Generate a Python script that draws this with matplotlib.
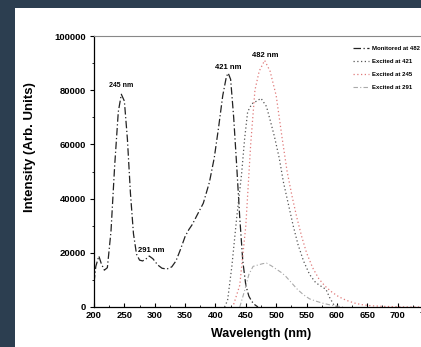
import numpy as np
import matplotlib
matplotlib.use('Agg')
import matplotlib.pyplot as plt
from matplotlib.patches import Rectangle
from matplotlib.ticker import MultipleLocator

plt.rcParams['font.family'] = ['Liberation Sans', 'DejaVu Sans']
plt.rcParams['font.weight'] = 'bold'

## excitation spectrum, monitored at 482 nm
wl_ex = [200, 203, 208, 212, 217, 222, 228, 234, 240, 245, 250, 255, 260, 265, 270,
         275, 280, 285, 291, 297, 305, 312, 320, 328, 335, 342, 350, 356, 362, 370,
         380, 390, 398, 405, 412, 418, 421, 425, 430, 435, 440, 445, 450, 455, 460,
         465, 470]
int_ex = [9000, 15000, 18800, 16000, 13600, 14500, 28000, 52000, 72000, 78500, 76000,
          62000, 42000, 27000, 19500, 17300, 17000, 17600, 18800, 17800, 15500, 14300,
          14000, 14800, 17000, 21000, 26000, 28500, 30500, 34000, 38300, 46000, 55000,
          66000, 78000, 85000, 86300, 84000, 70000, 52000, 33000, 17000, 8000, 4000,
          2000, 800, 0]

## emission, excited at 421 nm
wl_421 = [415, 420, 427, 435, 443, 448, 453, 460, 468, 475, 484, 490, 497, 505, 512,
          520, 528, 536, 545, 555, 565, 575, 582, 588, 595, 600]
int_421 = [0, 2500, 15000, 33000, 49000, 62000, 72000, 75000, 76000, 77000, 74000,
           69000, 63000, 55000, 46000, 38000, 30000, 23000, 17000, 12000, 9000, 7500,
           6500, 3500, 800, 0]

## emission, excited at 245 nm
wl_245 = [430, 440, 450, 458, 465, 472, 481, 490, 500, 510, 518, 526, 534, 542, 550,
          560, 570, 580, 590, 600, 610, 620, 630, 640, 650, 660, 680, 700, 720, 740]
int_245 = [1000, 8000, 30000, 60000, 80000, 87000, 91000, 87000, 78000, 62000, 50000,
           41000, 33000, 26000, 20000, 14500, 10500, 7800, 5800, 4200, 3000, 2100, 1400,
           900, 600, 400, 200, 100, 0, 0]

## emission, excited at 291 nm
wl_291 = [440, 448, 455, 462, 470, 478, 484, 492, 500, 508, 515, 525, 535, 545, 555,
          565, 575, 590, 610]
int_291 = [0, 6000, 12000, 15000, 15500, 16000, 16200, 15200, 14000, 12800, 11500,
           9000, 6500, 4500, 3000, 2200, 1500, 700, 0]

labels = ['Monitored at 482', 'Excited at 421', 'Excited at 245', 'Excited at 291']

W, H = 421, 347
fig = plt.figure(figsize=(W / 100, H / 100), dpi=100, facecolor='#2c3e50')
fig.patches.append(Rectangle((15 / W, 0), 1, (H - 8) / H, transform=fig.transFigure,
                             facecolor='white', edgecolor='none', zorder=-5))

ax = fig.add_axes([94 / W, 40 / H, (428 - 94) / W, 271 / H])
ax.set_facecolor('white')

l1, = ax.plot(wl_ex, int_ex, color='#222222', lw=0.9, ls=(0, (6, 2, 1, 2)))
l2, = ax.plot(wl_421, int_421, color='#555555', lw=0.9, ls=(0, (1, 2)))
l3, = ax.plot(wl_245, int_245, color='#e07a7a', lw=0.9, ls=(0, (1, 2)))
l4, = ax.plot(wl_291, int_291, color='#aaaaaa', lw=0.8, ls=(0, (4, 2, 1, 2)))

ax.set_xlim(200, 750)
ax.set_ylim(0, 100000)
ax.xaxis.set_major_locator(MultipleLocator(50))
ax.xaxis.set_minor_locator(MultipleLocator(25))
ax.yaxis.set_major_locator(MultipleLocator(20000))
ax.yaxis.set_minor_locator(MultipleLocator(10000))
ax.tick_params(axis='both', which='major', labelsize=6.8, length=3, width=0.8,
               direction='out', pad=3)
ax.tick_params(axis='both', which='minor', length=1.5, width=0.6, direction='out')
ax.tick_params(axis='x', which='major', direction='in')
ax.tick_params(axis='x', which='minor', direction='in')

ax.spines['right'].set_visible(False)
ax.spines['top'].set_color('#888888')
ax.spines['top'].set_linewidth(0.8)
ax.spines['left'].set_linewidth(0.9)
ax.spines['bottom'].set_linewidth(0.9)

ax.set_xlabel('Wavelength (nm)', fontsize=9, fontweight='bold', labelpad=6)
ax.set_ylabel('Intensity (Arb. Units)', fontsize=9.5, fontweight='bold')
ax.yaxis.set_label_coords(-0.175, 0.59)

ax.text(245, 80500, '245 nm', fontsize=5, ha='center', va='bottom')
ax.text(421, 87000, '421 nm', fontsize=5.5, ha='center', va='bottom')
ax.text(482, 91500, '482 nm', fontsize=5.5, ha='center', va='bottom')
ax.text(294, 19500, '291 nm', fontsize=5.5, ha='center', va='bottom')

fig.legend([l1, l2, l3, l4], labels, loc='upper left',
           bbox_to_anchor=(350 / W, 1 - 43 / H), frameon=False, prop={'size': 4.3, 'weight': 'bold'},
           handlelength=2.6, handletextpad=0.6, labelspacing=1.3, borderpad=0)

fig.savefig('out.png', dpi=100, facecolor=fig.get_facecolor())
